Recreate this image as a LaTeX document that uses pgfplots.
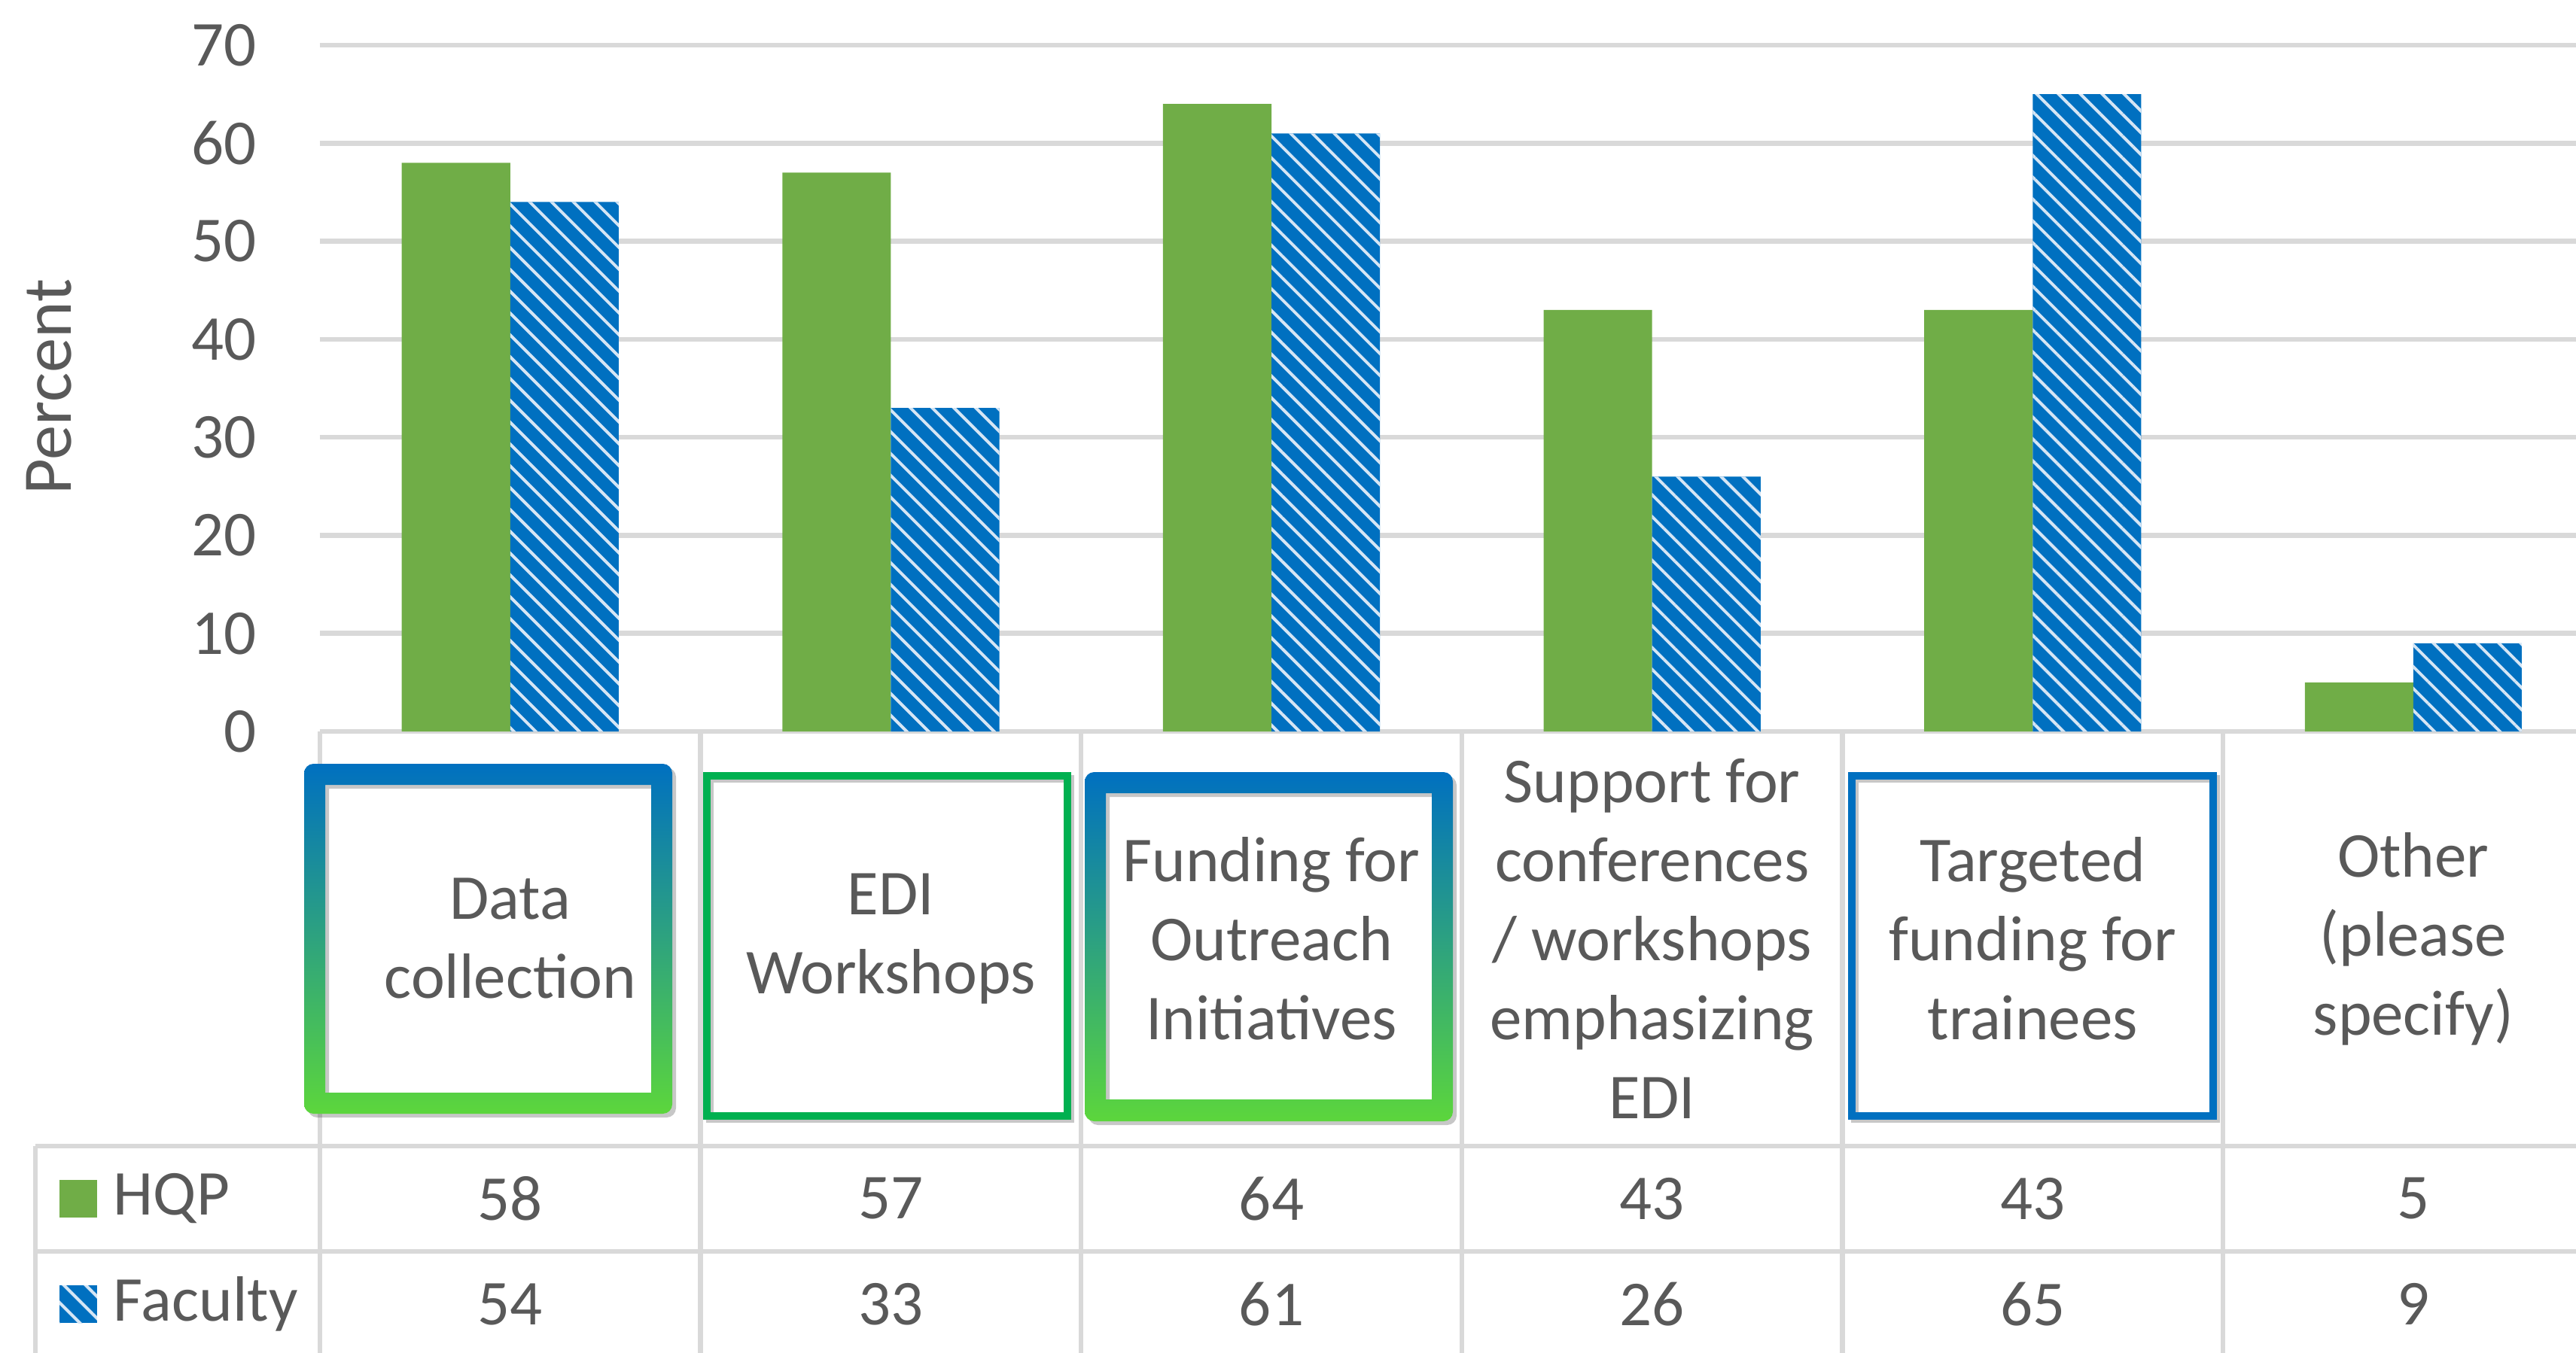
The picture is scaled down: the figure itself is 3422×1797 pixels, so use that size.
\documentclass[border=0pt]{standalone}
\usepackage{fontspec}
\setmainfont{Carlito}
\usepackage{pgfplots}
\pgfplotsset{compat=1.18}
\usepackage{pgfplotstable}
\usetikzlibrary{patterns.meta}
\definecolor{hqp}{HTML}{70AD47}
\definecolor{fac}{HTML}{0070C0}
\definecolor{txt}{HTML}{595959}
\definecolor{grd}{HTML}{D9D9D9}
\definecolor{edigreen}{HTML}{00B050}
\definecolor{gtop}{HTML}{0070C0}
\definecolor{gbot}{HTML}{5CD63C}
\definecolor{stripe}{HTML}{D6E6F5}

\pgfplotstableread{
x hqp fac
0 58 54
1 57 33
2 64 61
3 43 26
4 43 65
5 5 9
}\datatable

\newcommand\lf{\fontsize{17bp}{21bp}\selectfont}

\begin{document}
\begin{tikzpicture}
\begin{axis}[
  at={(0,0)}, anchor=south west,
  scale only axis, width=606.72bp, height=182.4bp,
  xmin=-0.5, xmax=5.5, ymin=0, ymax=70,
  xtick={0,...,5},
  xticklabels={{Data\\collection},{EDI\\Workshops},{Funding for\\Outreach\\Initiatives},{Support for\\conferences\\/ workshops\\emphasizing\\EDI},{Targeted\\funding for\\trainees},{Other\\(please\\specify)}},
  ytick={0,10,...,70},
  ymajorgrids, grid style={line width=1.3bp, grd},
  axis line style={draw=none}, major tick length=0pt, tick style={draw=none},
  /pgf/number format/assume math mode=true,
  ticklabel style={font=\lf, text=txt},
  yticklabel style={anchor=east, inner sep=0pt, xshift=-16.6bp},
  xticklabel style={anchor=center, inner sep=0pt, yshift=-55.1bp, align=center},
  clip=false,
  ybar, bar width=0.285,
]
\addplot[fill=hqp, draw=none, bar shift=-0.1425] table[x=x,y=hqp]{\datatable};
\addplot[fill=fac, draw=none, bar shift=0.1425, postaction={pattern={Lines[angle=-45,distance=4.1bp,line width=0.8bp]}, pattern color=stripe}] table[x=x,y=fac]{\datatable};
\end{axis}
\begin{scope}[x=0.2bp, y=-0.2bp, shift={(-425,-972)}, font=\lf, text=txt]
  % data table grid
  \draw[grd, line width=1.3bp] (47,1523) -- (3470,1523);
  \draw[grd, line width=1.3bp] (47,1663) -- (3470,1663);
  \draw[grd, line width=1.3bp] (47,1523) -- (47,1820);
  \foreach \k in {0,...,6} \draw[grd, line width=1.3bp] ({425+505.6*\k},972) -- ({425+505.6*\k},1820);
  % legend keys and row labels
  \fill[hqp] (79,1568) rectangle (129,1618);
  \fill[fac] (79,1708) rectangle (129,1758);
  \fill[pattern={Lines[angle=-45,distance=4.1bp,line width=0.8bp]}, pattern color=stripe] (79,1708) rectangle (129,1758);
  \node[anchor=west, inner sep=0pt] at (150,1593) {HQP};
  \node[anchor=west, inner sep=0pt] at (150,1733) {Faculty};
  % values
  \foreach \i/\a/\b in {0/58/54, 1/57/33, 2/64/61, 3/43/26, 4/43/65, 5/5/9} {
    \node at ({677.8+505.6*\i},1593) {\a};
    \node at ({677.8+505.6*\i},1733) {\b};
  }
  % y label
  \node[rotate=90, font=\fontsize{18.5bp}{22bp}\selectfont] at (65,514) {Percent};
  % annotation boxes: shadows
  \fill[black, opacity=0.22, even odd rule] [rounded corners=2.5bp] (409,1020) rectangle (898,1485) [sharp corners] (437,1048) rectangle (870,1457);
  \fill[black, opacity=0.22, even odd rule] [rounded corners=2.5bp] (1446,1031) rectangle (1935,1495) [sharp corners] (1474,1059) rectangle (1907,1466);
  \draw[black, opacity=0.22, line width=2bp] (943,1035) rectangle (1422,1487);
  \draw[black, opacity=0.22, line width=2bp] (2464,1035) rectangle (2944,1487);
  % gradient rings
  \shade[top color=gtop, bottom color=gbot, even odd rule] [rounded corners=2.5bp] (404,1015) rectangle (893,1480) [sharp corners] (432,1043) rectangle (865,1452);
  \shade[top color=gtop, bottom color=gbot, even odd rule] [rounded corners=2.5bp] (1441,1026) rectangle (1930,1490) [sharp corners] (1469,1054) rectangle (1902,1461);
  % thin boxes
  \draw[edigreen, line width=2bp] (939,1031) rectangle (1418,1483);
  \draw[fac, line width=2bp] (2460,1031) rectangle (2940,1483);
  \pgfresetboundingbox
  \path[use as bounding box] (0,0) rectangle (3422,1797);
\end{scope}
\end{tikzpicture}
\end{document}
